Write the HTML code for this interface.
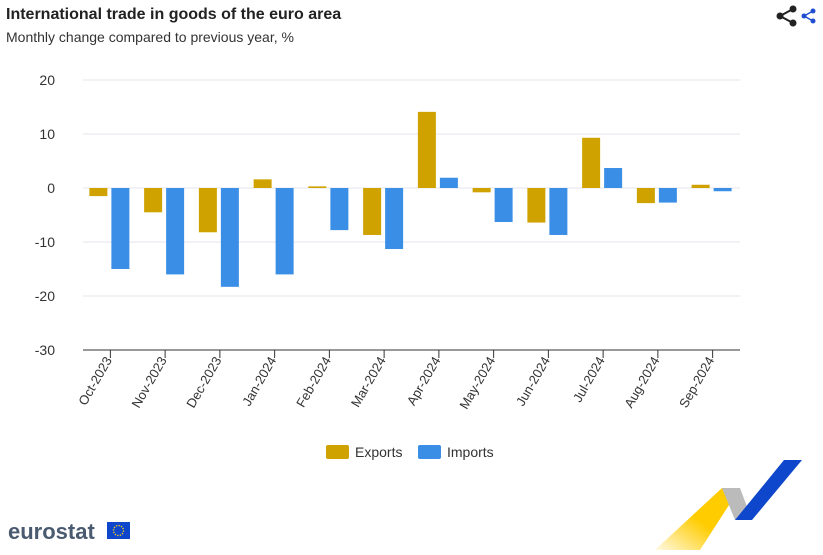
<!DOCTYPE html>
<html><head><meta charset="utf-8"><style>
body{margin:0;background:#fff;font-family:"Liberation Sans",sans-serif;}
svg text{font-family:"Liberation Sans",sans-serif;}
</style></head><body>
<svg id="c" width="823" height="550" xmlns="http://www.w3.org/2000/svg">
<defs><linearGradient id="yg" x1="0" y1="1" x2="1" y2="0"><stop offset="0" stop-color="#ffcc00" stop-opacity="0.1"/><stop offset="0.5" stop-color="#ffcc00"/></linearGradient></defs>
<text x="6" y="19" font-size="16" font-weight="bold" fill="#222">International trade in goods of the euro area</text>
<text x="6" y="42" font-size="14" fill="#333">Monthly change compared to previous year, %</text>
<g>
<circle cx="780" cy="16" r="3.5" fill="#222"/><circle cx="793" cy="9" r="3.5" fill="#222"/><circle cx="793" cy="23" r="3.5" fill="#222"/>
<path d="M780 16L793 9M780 16L793 23" stroke="#222" stroke-width="2"/>
<circle cx="804" cy="16" r="2.5" fill="#1f4fd0"/><circle cx="813" cy="11" r="2.5" fill="#1f4fd0"/><circle cx="813" cy="21" r="2.5" fill="#1f4fd0"/>
<path d="M804 16L813 11M804 16L813 21" stroke="#1f4fd0" stroke-width="1.5"/>
</g>
<g id="grid"></g><g id="bars"></g><g id="xl"></g>
<g>
<rect x="326" y="445" width="23" height="14" rx="2" fill="#cfa200"/>
<text x="355" y="457" font-size="14" fill="#333">Exports</text>
<rect x="418" y="445" width="23" height="14" rx="2" fill="#3a8ee6"/>
<text x="447" y="457" font-size="14" fill="#333">Imports</text>
</g>
<g>
<text x="8" y="539" font-size="22" font-weight="bold" fill="#4a5a70">eurostat</text>
<rect x="107" y="522" width="23" height="17" fill="#0e47cb"/>
<circle cx="118.5" cy="530.5" r="5" fill="none" stroke="#ffd617" stroke-width="1.3" stroke-dasharray="1.3 1.3"/>
</g>
<g>
<polygon points="655,550 700,550 740,488 722,488" fill="url(#yg)"/>
<polygon points="722,488 740,488 752,520 735,520" fill="#bbb"/>
<polygon points="735,520 752,520 802,460 784,460" fill="#0e47cb"/>
</g>
</svg>
<script>
const categories=["Oct-2023","Nov-2023","Dec-2023","Jan-2024","Feb-2024","Mar-2024","Apr-2024","May-2024","Jun-2024","Jul-2024","Aug-2024","Sep-2024"];
const exportsVals=[-1.5,-4.5,-8.2,1.6,0.3,-8.7,14.1,-0.8,-6.4,9.3,-2.8,0.6];
const importsVals=[-15,-16,-18.3,-16,-7.8,-11.3,1.9,-6.3,-8.7,3.7,-2.7,-0.6];
const yTicks=[20,10,0,-10,-20,-30];
const NS="http://www.w3.org/2000/svg";
const x0=83,x1=740,yTop=80,yBot=350,yMax=20,yMin=-30;
const y=v=>yTop+(yMax-v)/(yMax-yMin)*(yBot-yTop);
const bw=(x1-x0)/categories.length;
const cx=i=>x0+bw*(i+0.5);
function mk(t,a,p){const e=document.createElementNS(NS,t);for(const k in a)e.setAttribute(k,a[k]);p.appendChild(e);return e;}
const g=document.getElementById('grid'),b=document.getElementById('bars'),xl=document.getElementById('xl');
yTicks.forEach(t=>{
 const l=mk('line',{x1:x0,x2:x1,y1:y(t),y2:y(t),stroke:t===yMin?'#333':'#e3e3ec','stroke-width':1},g);
 
 
 const tx=mk('text',{x:55,y:y(t)+5,'font-size':14,fill:'#333','text-anchor':'end'},g);
 tx.textContent=t;
 
 
});
categories.forEach((c,i)=>{
 const c0=cx(i);
 [[exportsVals[i],c0-21,'#cfa200','bar-exports'],[importsVals[i],c0+1,'#3a8ee6','bar-imports']].forEach(([v,xx,col,nm])=>{
  const r=mk('rect',{x:xx,y:Math.min(y(v),y(0)),width:18,height:Math.max(1,Math.abs(y(v)-y(0))),fill:col},b);
  
  
 });
 const tk=mk('line',{x1:c0,x2:c0,y1:yBot,y2:yBot+8,stroke:'#333'},xl);
 
 
 const t=mk('text',{x:c0+2,y:yBot+10,'font-size':13,fill:'#333','text-anchor':'end',transform:`rotate(-60 ${c0+2} ${yBot+10})`},xl);
 t.textContent=c;
 
 
});
</script>
</body></html>
